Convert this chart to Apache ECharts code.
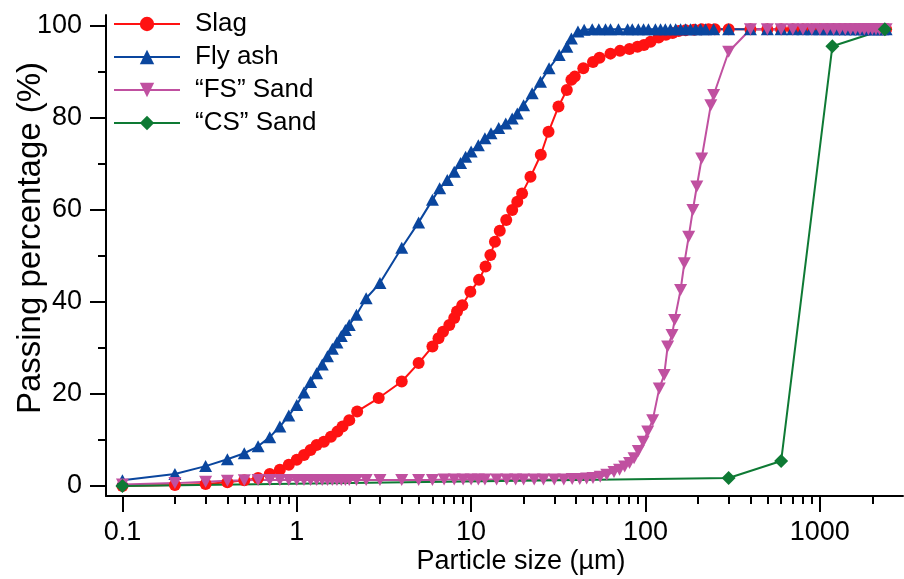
<!DOCTYPE html>
<html><head><meta charset="utf-8">
<script src="https://cdn.jsdelivr.net/npm/echarts@6/dist/echarts.min.js"></script>
<style>html,body{margin:0;padding:0;background:#fff;overflow:hidden}#c{width:904px;height:579px}</style>
</head><body><div id="c"></div>
<script>
// ---- data (particle size in µm, passing %) ----
const slagSize = [0.1,0.2,0.3,0.4,0.5,0.6,0.7,0.8,0.9,1.0,1.1,1.2,1.3,1.43,1.57,1.71,1.83,2.0,2.22,2.95,4,5,6,6.5,6.9,7.5,8,8.3,8.9,9.9,11.1,12.1,12.9,13.7,14.6,15.9,17.2,18.4,19.6,21.9,25.1,27.8,31.7,35.4,37.6,39.3,44,50,54.5,63,71.4,81,90,98,107,119,131,143,155,170,190,210,230,250,300,400,500,600,700,800,900,1000,1100,1200,1300,1400,1500,1600,1700,1800,1900,2000,2100,2200,2300,2400];
const slagPass = [0,0.2,0.4,0.8,1.2,1.7,2.6,3.5,4.6,5.7,6.7,7.8,8.9,9.6,10.7,11.8,12.9,14.3,16.2,19.1,22.7,26.7,30.3,32.1,33.5,35,36.5,37.9,39.3,42.2,44.8,47.7,50.2,53.1,55.5,57.8,60,61.8,63.6,67.2,72,77,82.5,86.1,88.3,89,90.8,92.2,93.1,94,94.6,95,95.5,95.9,96.6,97.5,98.1,98.5,98.9,99.1,99.2,99.3,99.3,99.3,99.3,99.3,99.3,99.3,99.3,99.3,99.3,99.3,99.3,99.3,99.3,99.3,99.3,99.3,99.3,99.3,99.3,99.3,99.3,99.3,99.3,99.3];

const flySize = [0.1,0.2,0.3,0.4,0.5,0.6,0.7,0.8,0.9,1.0,1.1,1.2,1.3,1.4,1.5,1.6,1.7,1.8,1.9,2.0,2.2,2.5,3,4,5,6,6.6,7.3,8,8.7,9.3,10,11,12,13,14.4,15.8,17.2,18.4,20,22.4,25,28,32,35.4,37.6,41,44.5,49.5,54,59,63,70,79,84,91,97.5,104,114,122,130,139,149,159,170,181,194,207,221,246,300,400,500,600,700,800,900,1000,1100,1200,1300,1400,1500,1600,1700,1800,1900,2000,2100,2200,2300,2400];
const flyPass = [1.2,2.6,4.3,5.8,7.1,8.6,10.6,12.9,15.3,17.6,20.3,22.6,24.5,26.4,28.2,29.8,31.2,32.6,33.9,35.0,37.2,40.8,44.1,51.8,57.3,62.2,64.7,66.5,68.3,70.2,71.6,72.7,74.1,75.6,76.7,77.8,78.8,79.9,81.0,82.8,85.4,87.9,90.8,93.7,95.5,97.3,98.8,99.2,99.3,99.3,99.3,99.3,99.3,99.3,99.3,99.3,99.3,99.3,99.3,99.3,99.3,99.3,99.3,99.3,99.3,99.3,99.3,99.3,99.3,99.3,99.3,99.3,99.3,99.3,99.3,99.3,99.3,99.3,99.3,99.3,99.3,99.3,99.3,99.3,99.3,99.3,99.3,99.3,99.3,99.3,99.3,99.3];

const fsSize = [0.1,0.2,0.3,0.4,0.5,0.6,0.7,0.8,0.9,1.0,1.1,1.2,1.3,1.4,1.5,1.6,1.7,1.8,1.9,2.0,2.2,2.5,3,4,5,6,7,8,9,10,11,12,14,16,18,20,23,26,30,34,38,42,46,50,55,60,66,71,76,81,86,91,97,103,110,120,128,134,142,147,159,167,177,187,197,210,237,246,300,400,500,600,700,800,900,1000,1100,1200,1300,1400,1500,1600,1700,1800,1900,2000,2100,2200,2300,2400];
const fsPass = [0.3,0.6,0.9,1.1,1.2,1.3,1.3,1.3,1.3,1.3,1.3,1.3,1.3,1.3,1.3,1.3,1.3,1.3,1.3,1.3,1.3,1.3,1.3,1.3,1.3,1.3,1.4,1.4,1.4,1.4,1.4,1.4,1.4,1.4,1.4,1.4,1.4,1.4,1.4,1.4,1.5,1.5,1.6,1.7,2.0,2.4,3.0,3.5,4.2,5.0,6.0,7.6,9.6,11.8,14.3,21.2,24.1,30.3,32.8,36.1,42.6,48.4,54.2,60,65.1,71.2,82.8,85,94.4,99.3,99.3,99.3,99.3,99.3,99.3,99.3,99.3,99.3,99.3,99.3,99.3,99.3,99.3,99.3,99.3,99.3,99.3,99.3,99.3,99.3];

const csSize = [0.1,300,600,1180,2360];
const csPass = [0,1.7,5.4,95.6,99.3];

const seriesNames = ['Slag','Fly ash','\u201CFS\u201D Sand','\u201CCS\u201D Sand'];
const xMajorTicks = [0.1,1,10,100,1000];
const xMinorTicks = [0.2,0.3,0.4,0.5,0.6,0.7,0.8,0.9,2,3,4,5,6,7,8,9,20,30,40,50,60,70,80,90,200,300,400,500,600,700,800,900,2000];
const yMajorTicks = [0,20,40,60,80,100];
const yMinorTicks = [10,30,50,70,90];

// ---- chart ----
const FONT = '"Liberation Sans", Arial, sans-serif';
const zip = (xs, ys) => xs.map((x, i) => [x, ys[i]]);
const X_MIN = 0.0805, X_MAX = 3000, Y_MIN = -2.2, Y_MAX = 102.4;
const black = '#000';
const chart = echarts.init(document.getElementById('c'), null, {renderer: 'canvas'});
const fmt = v => String(+Number(v).toPrecision(6));

const option = {
  animation: false,
  backgroundColor: '#fff',
  grid: {left: 106, right: 1, top: 15, bottom: 83, containLabel: false, outerBoundsMode: 'none'},
  legend: {
    orient: 'vertical', left: 113, top: 11, padding: 0,
    itemWidth: 66, itemHeight: 18, itemGap: 7,
    textStyle: {fontSize: 26, fontFamily: FONT, color: black, lineHeight: 26, padding: [0, 0, 0, 10]},
    data: seriesNames
  },
  xAxis: [{
    type: 'log', logBase: 10, min: X_MIN, max: X_MAX, position: 'bottom',
    axisLine: {onZero: false, lineStyle: {color: black, width: 2}},
    axisTick: {customValues: xMajorTicks, length: 16, lineStyle: {color: black, width: 2}},
    axisLabel: {customValues: xMajorTicks, formatter: fmt, margin: 23, color: black, fontSize: 27, fontFamily: FONT},
    splitLine: {show: false}, minorTick: {show: false},
    name: 'Particle size (\u00B5m)', nameLocation: 'middle', nameGap: 52, nameMoveOverlap: false,
    nameTextStyle: {fontSize: 27, fontFamily: FONT, color: black, padding: [0, 0, 0, 33]}
  }, {
    type: 'log', logBase: 10, min: X_MIN, max: X_MAX, position: 'bottom',
    axisLine: {show: false, onZero: false},
    axisTick: {customValues: xMinorTicks, length: 8, lineStyle: {color: black, width: 2}},
    axisLabel: {show: false}, splitLine: {show: false}
  }],
  yAxis: [{
    type: 'value', min: Y_MIN, max: Y_MAX, position: 'left',
    axisLine: {show: true, onZero: false, lineStyle: {color: black, width: 2}},
    axisTick: {show: true, customValues: yMajorTicks, length: 16, lineStyle: {color: black, width: 2}},
    axisLabel: {customValues: yMajorTicks, margin: 24, color: black, fontSize: 27, fontFamily: FONT},
    splitLine: {show: false},
    name: 'Passing percentage (%)', nameLocation: 'middle', nameGap: 59, nameMoveOverlap: false,
    nameTextStyle: {fontSize: 33, fontFamily: FONT, color: black, padding: [0, 0, 0, 35]}
  }, {
    type: 'value', min: Y_MIN, max: Y_MAX, position: 'left',
    axisLine: {show: false, onZero: false},
    axisTick: {show: true, customValues: yMinorTicks, length: 8, lineStyle: {color: black, width: 2}},
    axisLabel: {show: false}, splitLine: {show: false}
  }],
  series: [
    {name: seriesNames[0], type: 'line', data: zip(slagSize, slagPass), symbol: 'circle', symbolSize: 12,
     itemStyle: {color: '#ff1212'}, lineStyle: {color: '#ff1212', width: 2}},
    {name: seriesNames[1], type: 'line', data: zip(flySize, flyPass), symbol: 'triangle', symbolSize: [13, 12],
     itemStyle: {color: '#0a469e'}, lineStyle: {color: '#0a469e', width: 2}},
    {name: seriesNames[2], type: 'line', data: zip(fsSize, fsPass), symbol: 'path://M0,0L10,0L5,9Z', symbolSize: [13, 12],
     itemStyle: {color: '#c050a0'}, lineStyle: {color: '#c050a0', width: 2}},
    {name: seriesNames[3], type: 'line', data: zip(csSize, csPass), symbol: 'diamond', symbolSize: 14,
     itemStyle: {color: '#0e7a34'}, lineStyle: {color: '#0e7a34', width: 2}}
  ]
};
chart.setOption(option);
</script>
</body></html>
